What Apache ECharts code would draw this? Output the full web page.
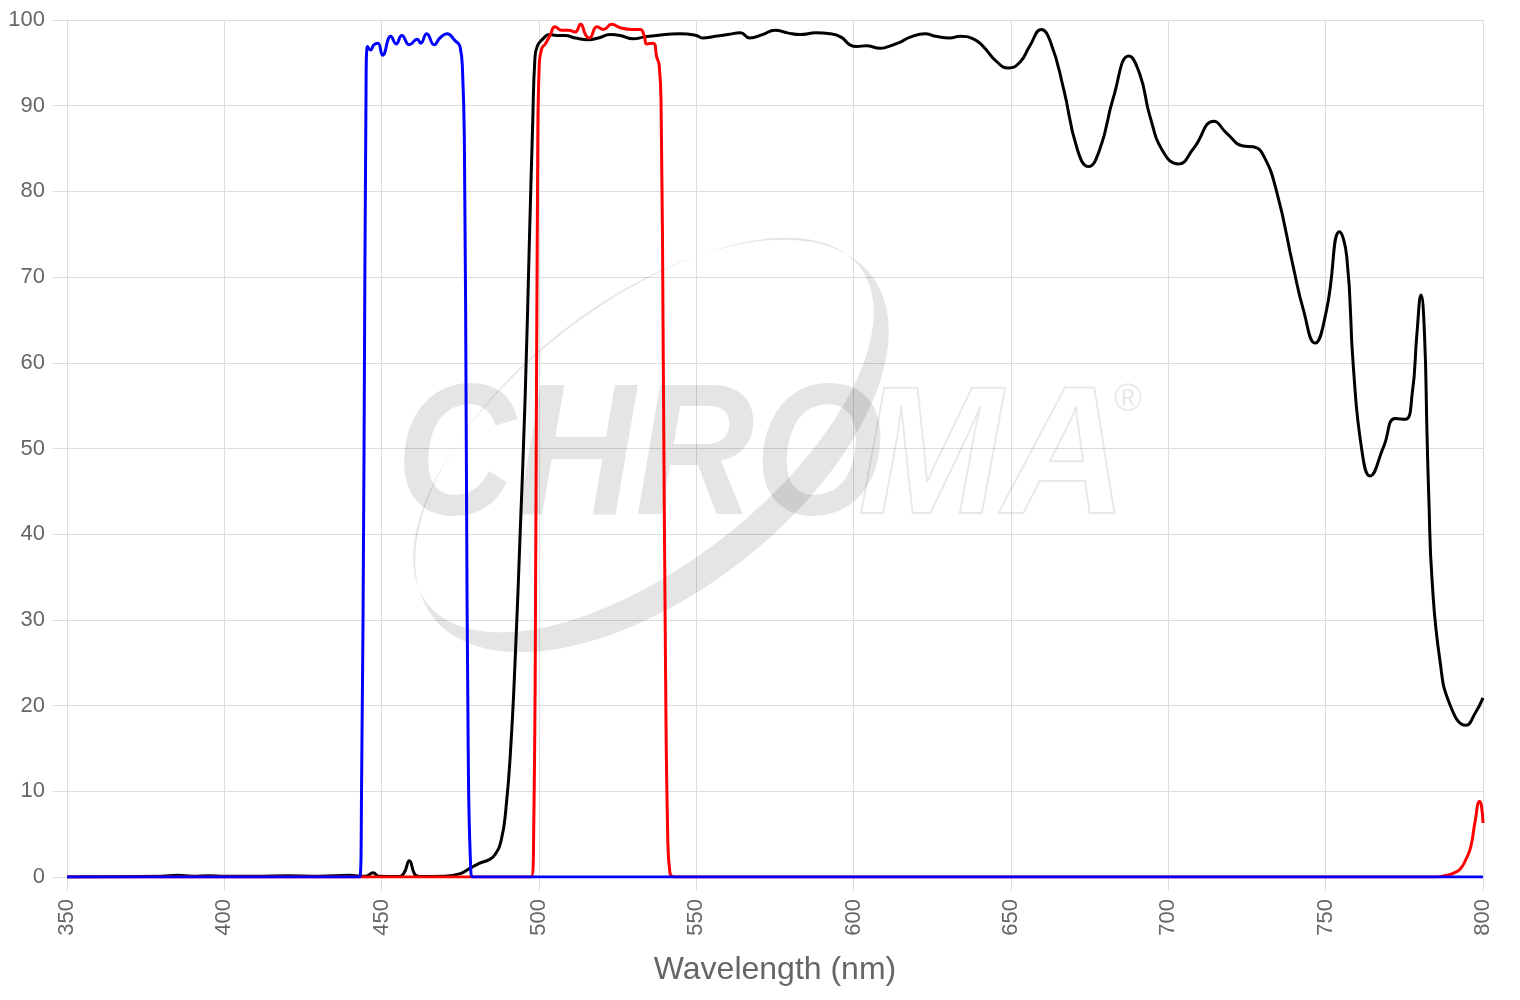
<!DOCTYPE html>
<html>
<head>
<meta charset="utf-8">
<title>Transmission spectra</title>
<script src="https://cdn.jsdelivr.net/npm/echarts@6/dist/echarts.min.js"></script>
<style>
  html, body {margin: 0; padding: 0; background: #fff;}
  #chart {width: 1520px; height: 1000px;}
</style>
</head>
<body>
<div id="chart"></div>
<script>
// x axis ticks (nm)
const xTicks = [350, 400, 450, 500, 550, 600, 650, 700, 750, 800]
const yTicks = [0, 10, 20, 30, 40, 50, 60, 70, 80, 90, 100]

// black trace: wavelength (nm) / transmission (%)
const blackX = [350, 380, 385, 390, 395, 400, 410, 420, 430, 440, 443, 445, 447.3, 449, 455, 457, 458.8, 460.5, 462, 470, 475, 478, 481, 484, 486, 488,
  489.5, 491, 492.5, 494, 495.6, 497, 498, 498.7, 499.5, 501, 503.3, 505.6, 508.3, 511.5, 515.7, 518.9, 522.6, 525.8, 530, 533.2, 537.4, 544.8,
  550, 552, 556, 560, 564, 567, 571, 575, 579, 583, 588, 592.5, 596, 598.8, 601, 604, 608.4, 611, 614.7, 618, 622.7, 626, 630.6, 633.8, 638,
  641.2, 645, 649.2, 652.9, 656, 659.6, 662.5, 666.7, 671, 674.6, 678.3, 682.5, 687.5, 691, 694.2, 698.4, 703.2, 708, 714.5, 718.5, 723.8, 727,
  730.2, 734.4, 739.7, 742.9, 746.6, 750.3, 754.4, 756.7, 758.8, 761.5, 764.1, 768.4, 772.1, 775.3, 777.5, 779, 780.3, 781.4, 782.2, 782.8,
  783.8, 786.3, 789.5, 794.6, 797.5, 800]
const blackY = [0, 0.1, 0.2, 0.1, 0.15, 0.1, 0.1, 0.15, 0.1, 0.2, 0.1, 0.1, 0.5, 0.1, 0.05, 0.4, 1.9, 0.3, 0.05, 0.1, 0.4, 1.0, 1.6, 2.0, 2.6, 4.3,
  8, 15, 26, 40, 56, 75, 88, 95.5, 97, 97.7, 98.3, 98.2, 98.2, 97.9, 97.7, 97.9, 98.3, 98.2, 97.8, 98, 98.2, 98.4,
  98.2, 97.9, 98.1, 98.3, 98.5, 97.9, 98.3, 98.8, 98.5, 98.3, 98.5, 98.4, 98.0, 97.1, 96.9, 97.0, 96.7, 96.9, 97.4, 98.0, 98.4, 98.1, 97.9, 98.1, 97.8,
  96.9, 95.3, 94.4, 95.1, 97.0, 98.9, 97.5, 92.0, 85.0, 82.9, 85.0, 90.9, 95.8, 93.6, 88.7, 84.6, 83.2, 85.0, 88.2, 86.8, 85.3, 85.2,
  84.2, 80.0, 71.2, 66.2, 62.3, 66.2, 75.3, 72.4, 59.5, 49.8, 46.8, 50.2, 53.5, 53.4, 56.4, 63.4, 67.9, 63.4, 51.8, 44,
  34.7, 25.3, 20.1, 17.7, 19.1, 20.9]

// red trace
const redX = [350, 497.5, 498.3, 499, 499.6, 500.1, 500.9, 502, 503.5, 505.1, 507.2, 509.3, 511.5, 513.2, 514.9, 516, 518.4, 520.5, 523.1, 525.8,
  529.5, 532.2, 533.4, 534.3, 536.3, 537.4, 538.2, 538.8, 539.5, 540.2, 540.9, 541.6, 543, 785, 788.5, 791, 792.9, 794.5, 796.1, 797.5, 798.9, 799.5, 800]
const redY = [0, 0, 5, 40, 85, 95, 96.7, 97.2, 98.2, 99.2, 98.8, 98.8, 98.6, 99.5, 98.2, 97.9, 99.2, 98.9, 99.5, 99.1,
  98.9, 98.9, 98.2, 97.2, 97.3, 95.7, 94.7, 90, 60, 25, 5, 0.5, 0, 0, 0.2, 0.5, 1.0, 2.0, 3.5, 6.5, 8.8, 8.3, 6.3]

// blue trace
const blueX = [350, 443, 443.6, 444.4, 445.0, 445.5, 446.5, 447.5, 448.8, 450.3, 452.9, 454.6, 456.4, 458.8, 461.3, 462.4, 464.3, 466.7, 468.5,
  470.8, 473.3, 474.9, 475.7, 476.3, 476.9, 477.5, 478.2, 479, 800]
const blueY = [0, 0, 10, 50, 90, 96.9, 96.5, 97.1, 97.3, 95.9, 98.1, 97.2, 98.2, 97.1, 97.75, 97.3, 98.4, 97.1, 97.9,
  98.4, 97.6, 96.9, 94, 85, 50, 15, 2, 0, 0]

const zip = (xs, ys) => xs.map((x, i) => [x, ys[i]])

// watermark swoosh: crescent between two rotated ellipses
function swoosh() {
  const cx = 652
  const cy = 446
  const ang = (38 * Math.PI) / 180
  const u = [Math.cos(ang), -Math.sin(ang)]
  const v = [Math.sin(ang), Math.cos(ang)]
  const ell = (ox, oy, a, b, t) => [
    ox + a * Math.cos(t) * u[0] + b * Math.sin(t) * v[0],
    oy + a * Math.cos(t) * u[1] + b * Math.sin(t) * v[1],
  ]
  const pts = []
  const n = 120
  for (let i = 0; i <= n; i++) pts.push(ell(cx, cy, 278, 146, (i / n) * 2 * Math.PI))
  const ix = cx - 14 * v[0]
  const iy = cy - 14 * v[1]
  for (let i = n; i >= 0; i--) pts.push(ell(ix, iy, 274, 130, (i / n) * 2 * Math.PI))
  return pts
}

const chart = echarts.init(document.getElementById('chart'), null, {renderer: 'canvas'})

const axisText = {color: '#666', fontSize: 22, fontFamily: 'Liberation Sans, Arial, sans-serif'}
const gridColor = '#dcdcdc'
const wm = 'rgba(0,0,0,0.10)'

const option = {
  animation: false,
  backgroundColor: '#fff',
  grid: {left: 67, right: 37, top: 20, bottom: 123, containLabel: false, outerBoundsMode: 'none'},
  graphic: [
    {
      type: 'polygon',
      z: 1,
      silent: true,
      shape: {points: swoosh()},
      style: {fill: wm},
    },
    {
      type: 'text',
      z: 1,
      silent: true,
      x: 396,
      y: 368,
      scaleX: 0.88,
      style: {
        text: 'CHRO',
        fill: wm,
        font: 'italic bold 188px "Liberation Sans", Arial, sans-serif',
      },
    },
    {
      type: 'text',
      z: 1,
      silent: true,
      x: 858,
      y: 372,
      scaleX: 0.95,
      style: {
        text: 'MA',
        fill: 'transparent',
        stroke: 'rgba(0,0,0,0.09)',
        lineWidth: 2,
        font: 'italic bold 182px "Liberation Sans", Arial, sans-serif',
      },
    },
    {
      type: 'text',
      z: 1,
      silent: true,
      x: 1114,
      y: 382,
      style: {
        text: '®',
        fill: 'rgba(0,0,0,0.09)',
        font: '38px "Liberation Sans", Arial, sans-serif',
      },
    },
  ],
  xAxis: {
    type: 'value',
    min: xTicks[0],
    max: xTicks[xTicks.length - 1],
    interval: 50,
    name: 'Wavelength (nm)',
    nameLocation: 'middle',
    nameGap: 77,
    nameTextStyle: {...axisText, fontSize: 32},
    axisLine: {show: true, lineStyle: {color: gridColor, width: 1}},
    axisTick: {show: true, length: 14, lineStyle: {color: gridColor}},
    axisLabel: {...axisText, rotate: 90, margin: 22},
    splitLine: {show: true, lineStyle: {color: gridColor, width: 1}},
  },
  yAxis: {
    type: 'value',
    min: yTicks[0],
    max: yTicks[yTicks.length - 1],
    interval: 10,
    axisLine: {show: true, lineStyle: {color: gridColor, width: 1}},
    axisTick: {show: true, length: 14, lineStyle: {color: gridColor}},
    axisLabel: {...axisText, margin: 22},
    splitLine: {show: true, lineStyle: {color: gridColor, width: 1}},
  },
  series: [
    {name: 'black', data: zip(blackX, blackY), color: '#000'},
    {name: 'red', data: zip(redX, redY), color: '#ff0000'},
    {name: 'blue', data: zip(blueX, blueY), color: '#0000ff'},
  ].map(s => ({
    ...s,
    type: 'line',
    z: 3,
    showSymbol: false,
    smooth: 0.5,
    lineStyle: {width: 3, color: s.color},
  })),
}

chart.setOption(option)
</script>
</body>
</html>
